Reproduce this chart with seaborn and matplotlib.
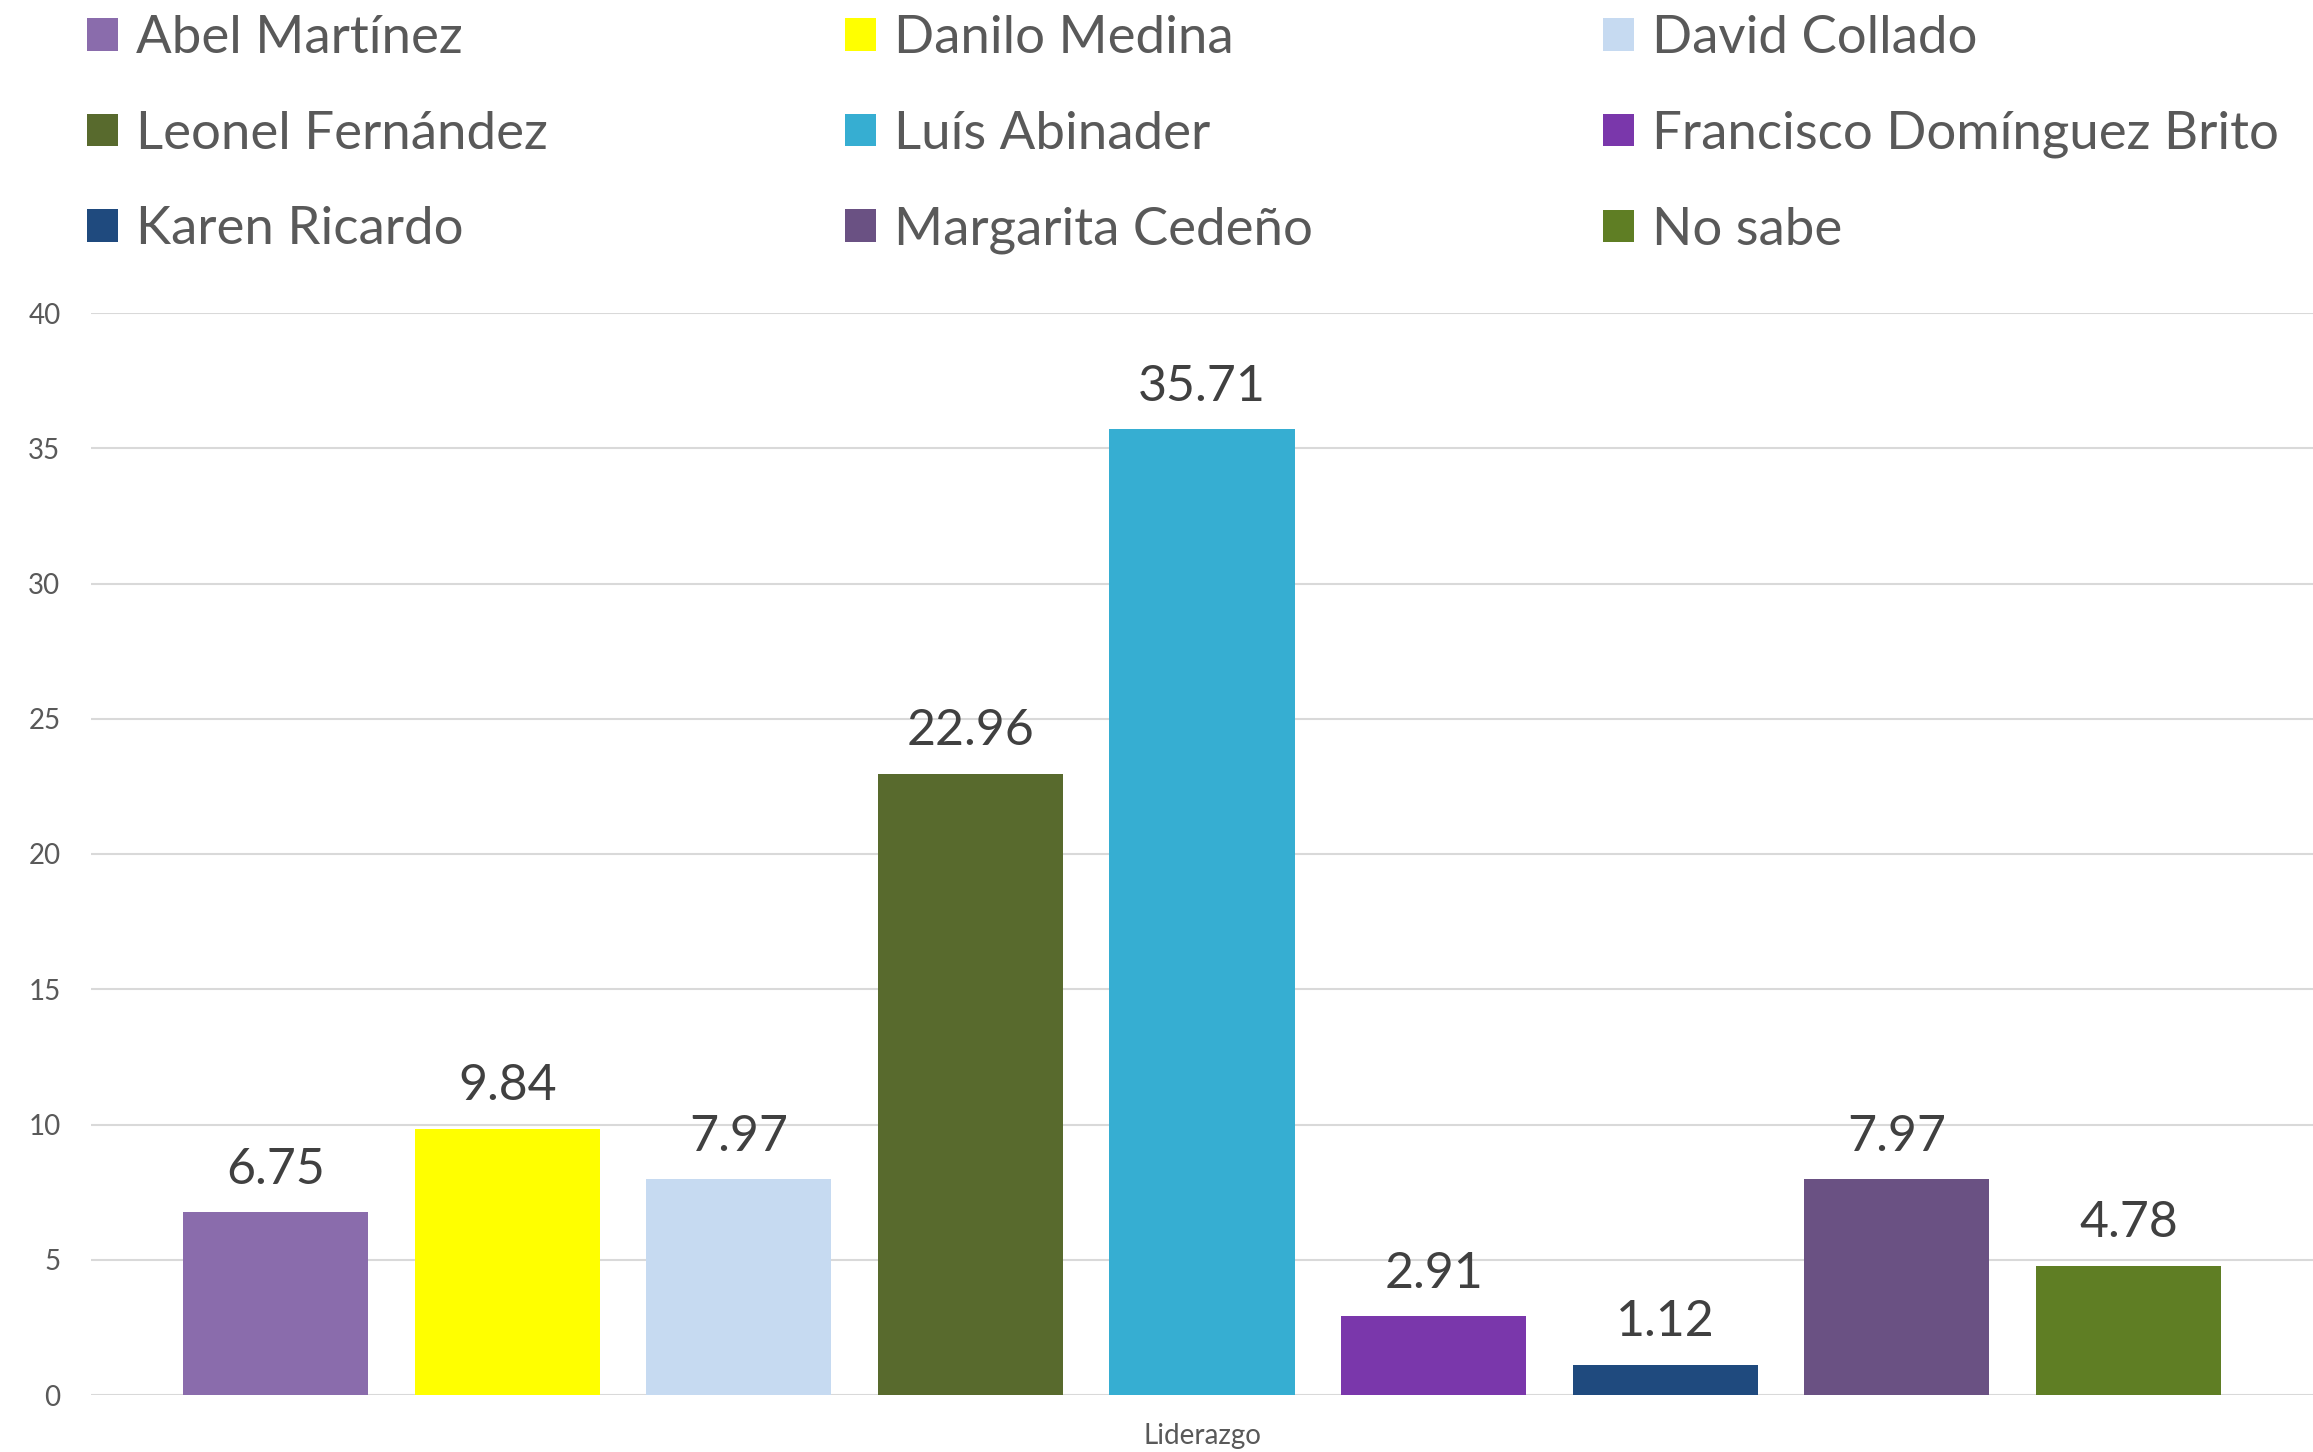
import matplotlib
matplotlib.use("Agg")
import matplotlib.pyplot as plt
import seaborn as sns
import pandas as pd

# ---- data ----
candidates = ["Abel Martínez", "Danilo Medina", "David Collado",
              "Leonel Fernández", "Luís Abinader", "Francisco Domínguez Brito",
              "Karen Ricardo", "Margarita Cedeño", "No sabe"]
values = [6.75, 9.84, 7.97, 22.96, 35.71, 2.91, 1.12, 7.97, 4.78]
category = "Liderazgo"
colors = ["#8A6CAC", "#FFFF00", "#C6DAF1", "#586A2D", "#36AED2",
          "#7A37AB", "#1F4A7E", "#6A5183", "#5F7E24"]
yticks = [0, 5, 10, 15, 20, 25, 30, 35, 40]

df = pd.DataFrame({"cat": [category] * len(candidates),
                   "name": candidates, "value": values})

sns.set_theme(style="white")
FONT = ["Lato", "DejaVu Sans"]
plt.rcParams["font.family"] = FONT

W, H = 2313, 1452
fig = plt.figure(figsize=(W / 100, H / 100), dpi=100)
ax = fig.add_axes([91 / W, 57 / H, (W - 91) / W, (1395 - 313) / H * 1.0])

sns.barplot(data=df, x="cat", y="value", hue="name", hue_order=candidates,
            palette=dict(zip(candidates, colors)), width=0.938, gap=0.2,
            saturation=1, ax=ax, legend=True, linewidth=0)

ax.set_xlim(-0.5, 0.5)
ax.set_ylim(0, 40)
ax.set_yticks(yticks)
ax.set_yticklabels([str(t) for t in yticks])
ax.yaxis.grid(True, color="#D9D9D9", linewidth=1.5)
ax.set_axisbelow(True)
for s in ax.spines.values():
    s.set_visible(False)
ax.tick_params(axis="y", length=0, pad=22, labelsize=20, labelcolor="#595959")
ax.tick_params(axis="x", length=0, pad=20, labelsize=20, labelcolor="#595959")
ax.set_xlabel("")
ax.set_ylabel("")

# value labels
for cont in ax.containers:
    for bar in cont:
        h = bar.get_height()
        ax.annotate(f"{h:.2f}", (bar.get_x() + bar.get_width() / 2, h),
                    xytext=(0, 14), textcoords="offset points",
                    ha="center", va="bottom", fontsize=36, color="#404040")

# legend: three columns, row-major order
handles, labels = ax.get_legend_handles_labels()
ax.get_legend().remove()
col_x = [87 / W, 845 / W, 1603 / W]
for c in range(3):
    idx = [c, c + 3, c + 6]
    fig.legend([handles[i] for i in idx], [labels[i] for i in idx],
               loc="upper left", bbox_to_anchor=(col_x[c], 1.0 - 15 / H),
               frameon=False, fontsize=38, labelcolor="#595959",
               handlelength=0.58, handleheight=0.58, handletextpad=0.35,
               labelspacing=0.92, borderpad=0.0, borderaxespad=0.0)

fig.savefig("out.png", dpi=100)
